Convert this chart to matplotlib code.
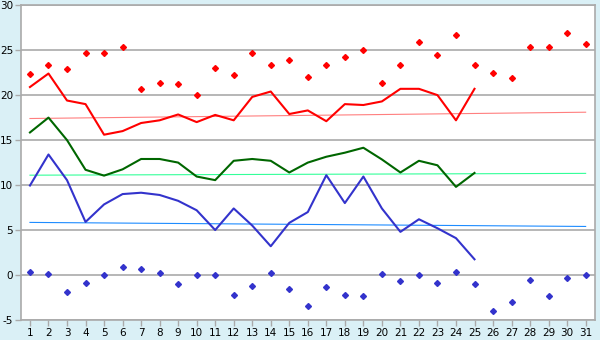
import matplotlib
matplotlib.use("Agg")
import matplotlib.pyplot as plt

# ====== Datos ======
dias = list(range(1, 32))

# Puntos máximos (rojo) y mínimos (azul), 31 días
max_puntos = [22.3, 23.4, 22.9, 24.7, 24.7, 25.3, 20.7, 21.4, 21.2, 20.0,
              23.0, 22.2, 24.7, 23.4, 23.9, 22.0, 23.4, 24.2, 25.0, 21.3,
              23.4, 25.9, 24.5, 26.7, 23.3, 22.5, 21.9, 25.4, 25.3, 26.9, 25.7]
min_puntos = [0.3, 0.1, -1.9, -0.9, 0.0, 0.85, 0.65, 0.2, -1.0, 0.0,
              0.0, -2.25, -1.25, 0.2, -1.5, -3.45, -1.35, -2.25, -2.35, 0.1,
              -0.7, 0.0, -0.9, 0.35, -1.0, -4.0, -3.05, -0.6, -2.35, -0.35, 0.0]

# Líneas (25 días)
dias_lineas = list(range(1, 26))
linea_roja = [20.9, 22.4, 19.4, 19.0, 15.6, 16.0, 16.9, 17.2, 17.85, 17.0,
              17.8, 17.2, 19.8, 20.4, 17.9, 18.3, 17.1, 19.0, 18.9, 19.3,
              20.7, 20.7, 20.0, 17.2, 20.7]
linea_verde = [15.85, 17.5, 15.0, 11.7, 11.05, 11.75, 12.9, 12.9, 12.5, 10.95,
               10.55, 12.7, 12.9, 12.7, 11.4, 12.5, 13.15, 13.6, 14.15, 12.85,
               11.4, 12.7, 12.2, 9.8, 11.35]
linea_azul = [9.95, 13.4, 10.55, 5.9, 7.85, 9.0, 9.15, 8.9, 8.25, 7.2,
              5.0, 7.4, 5.5, 3.2, 5.8, 7.0, 11.1, 8.0, 10.95, 7.4,
              4.8, 6.2, 5.2, 4.1, 1.75]

# Tendencias (inicio día 1, fin día 31)
tend_dias = [1, 31]
tend_roja = [17.4, 18.1]
tend_verde = [11.1, 11.3]
tend_azul = [5.85, 5.4]

# ====== Gráfico ======
plt.rcParams["font.family"] = ["Verdana", "DejaVu Sans"]
plt.rcParams["axes.unicode_minus"] = False

fondo = "#daf0f6"
gris = "#aaaaaa"

fig = plt.figure(figsize=(6, 3.4), dpi=100, facecolor=fondo)
ax = fig.add_axes([0.0345, 0.0588, 0.957, 0.926])
ax.set_facecolor("white")

ax.plot(tend_dias, tend_roja, color="#ff7f7f", lw=0.8)
ax.plot(tend_dias, tend_verde, color="#33ff99", lw=0.8)
ax.plot(tend_dias, tend_azul, color="#1e8cff", lw=0.8)

ax.plot(dias_lineas, linea_roja, color="#ff0000", lw=1.5)
ax.plot(dias_lineas, linea_verde, color="#006600", lw=1.5)
ax.plot(dias_lineas, linea_azul, color="#3333cc", lw=1.5)

ax.plot(dias, max_puntos, ls="none", marker="D", ms=3, color="#ff0000")
ax.plot(dias, min_puntos, ls="none", marker="D", ms=3, color="#3333cc")

ax.set_xlim(0.5, 31.5)
ax.set_ylim(-5, 30)
ax.set_xticks(dias)
ax.set_yticks(range(-5, 31, 5))
ax.yaxis.grid(True, color=gris, lw=1.2)
ax.set_axisbelow(True)
for s in ax.spines.values():
    s.set_color(gris)
    s.set_linewidth(1.2)
ax.tick_params(axis="both", colors=gris, labelcolor="black", labelsize=7.5,
               length=4, width=1, pad=1.5)

plt.savefig("out.png", dpi=100, facecolor=fondo)
